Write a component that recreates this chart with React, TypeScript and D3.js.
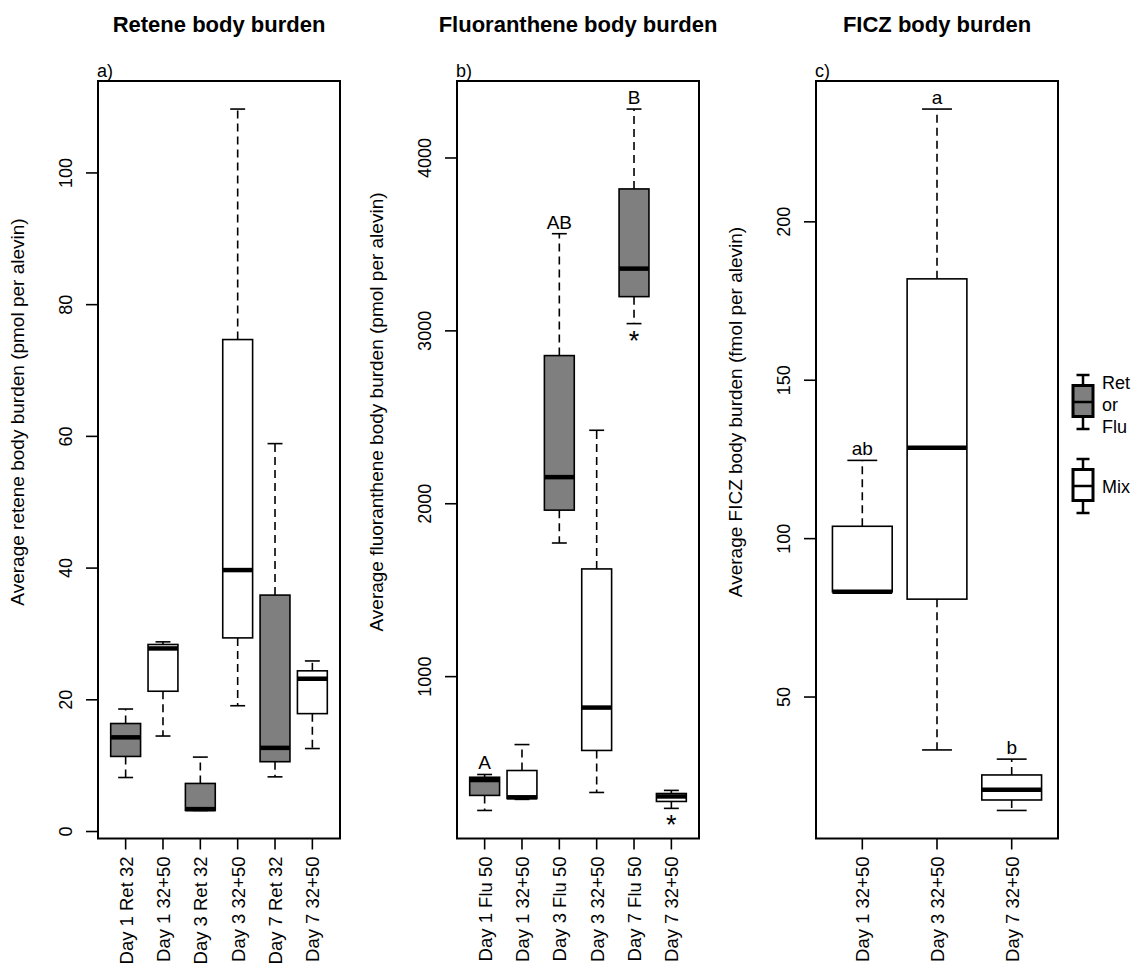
import React, { useEffect } from 'react';
import * as d3 from 'd3';

// five-number summaries: [min, q1, median, q3, max]
const retCategories = ['Day 1 Ret 32', 'Day 1 32+50', 'Day 3 Ret 32', 'Day 3 32+50', 'Day 7 Ret 32', 'Day 7 32+50'];
const retStats = [
  [8.2, 11.4, 14.3, 16.4, 18.6],
  [14.5, 21.3, 27.8, 28.4, 28.8],
  [3.2, 3.2, 3.4, 7.3, 11.3],
  [19.1, 29.4, 39.7, 74.7, 109.7],
  [8.3, 10.6, 12.7, 35.9, 58.9],
  [12.6, 17.9, 23.2, 24.4, 25.9],
];
const retGroups = ['single', 'mix', 'single', 'mix', 'single', 'mix'];
const retTicks = [0, 20, 40, 60, 80, 100];

const fluCategories = ['Day 1 Flu 50', 'Day 1 32+50', 'Day 3 Flu 50', 'Day 3 32+50', 'Day 7 Flu 50', 'Day 7 32+50'];
const fluStats = [
  [226, 313, 402, 418, 434],
  [290, 295, 302, 457, 607],
  [1773, 1963, 2154, 2857, 3562],
  [330, 573, 821, 1623, 2425],
  [3042, 3198, 3360, 3821, 4283],
  [238, 278, 307, 324, 342],
];
const fluGroups = ['single', 'mix', 'single', 'mix', 'single', 'mix'];
const fluLetters = ['A', '', 'AB', '', 'B', ''];
const fluStars = [false, false, false, false, true, true];
const fluTicks = [1000, 2000, 3000, 4000];

const ficzCategories = ['Day 1 32+50', 'Day 3 32+50', 'Day 7 32+50'];
const ficzStats = [
  [83.2, 83.2, 83.2, 103.9, 124.7],
  [33.3, 80.9, 128.7, 182, 235.6],
  [14.2, 17.5, 20.7, 25.4, 30.4],
];
const ficzGroups = ['mix', 'mix', 'mix'];
const ficzLetters = ['ab', 'a', 'b'];
const ficzTicks = [50, 100, 150, 200];

const legendLabels = [['Ret', 'or', 'Flu'], ['Mix']];
const legendGroups = ['single', 'mix'];

const FONT = "'Liberation Sans', Arial, Helvetica, sans-serif";
const fillFor = (g: string) => (g === 'single' ? '#7f7f7f' : '#ffffff');

const TOP = 81;
const BOTTOM = 838.5;
const PW = 242;

interface PanelProps {
  left: number;
  title: string;
  tag: string;
  yLabel: string;
  categories: string[];
  stats: number[][];
  groups: string[];
  ticks: number[];
  letters?: string[];
  stars?: boolean[];
}

const BoxPanel: React.FC<PanelProps> = ({ left, title, tag, yLabel, categories, stats, groups, ticks, letters, stars }) => {
  const n = categories.length;
  // R style: xlim 0.5..n+0.5, ylim from data, both padded by 4%
  const x = d3.scaleLinear().domain([0.5 - 0.04 * n, n + 0.5 + 0.04 * n]).range([left, left + PW]);
  const lo = d3.min(stats, s => s[0]) as number;
  const hi = d3.max(stats, s => s[4]) as number;
  const pad = (hi - lo) * 0.04;
  const y = d3.scaleLinear().domain([lo - pad, hi + pad]).range([BOTTOM, TOP]);
  const hw = (x(1.4) - x(1));
  const cx = left + PW / 2;

  return (
    <g>
      <text x={cx} y={32} textAnchor="middle" fontWeight="bold" fontSize={22} fontFamily={FONT}>{title}</text>
      <text x={left - 1} y={77} fontSize={18} fontFamily={FONT}>{tag}</text>
      <text transform={`translate(${left - 74.5},412) rotate(-90)`} textAnchor="middle" fontSize={19} fontFamily={FONT}>{yLabel}</text>

      {ticks.map(t => (
        <g key={t}>
          <line x1={left - 12} x2={left} y1={y(t)} y2={y(t)} stroke="#000" strokeWidth={1.6} />
          <text transform={`translate(${left - 26},${y(t)}) rotate(-90)`} textAnchor="middle" fontSize={18} fontFamily={FONT}>{t}</text>
        </g>
      ))}

      {categories.map((c, i) => (
        <g key={c + i}>
          <line x1={x(i + 1)} x2={x(i + 1)} y1={BOTTOM} y2={BOTTOM + 11} stroke="#000" strokeWidth={1.6} />
          <text transform={`translate(${x(i + 1) + 7},${BOTTOM + 18}) rotate(-90)`} textAnchor="end" fontSize={18.5} fontFamily={FONT}>{c}</text>
        </g>
      ))}

      {stats.map((s, i) => {
        const px = x(i + 1);
        const [mn, q1, md, q3, mx] = s;
        return (
          <g key={i}>
            <line x1={px} x2={px} y1={y(q3)} y2={y(mx)} stroke="#000" strokeWidth={1.6} strokeDasharray="8,5" />
            <line x1={px} x2={px} y1={y(q1)} y2={y(mn)} stroke="#000" strokeWidth={1.6} strokeDasharray="8,5" />
            <line x1={px - hw / 2} x2={px + hw / 2} y1={y(mx)} y2={y(mx)} stroke="#000" strokeWidth={1.6} />
            <line x1={px - hw / 2} x2={px + hw / 2} y1={y(mn)} y2={y(mn)} stroke="#000" strokeWidth={1.6} />
            <rect x={px - hw} y={y(q3)} width={2 * hw} height={Math.max(0.5, y(q1) - y(q3))} fill={fillFor(groups[i])} stroke="#000" strokeWidth={1.6} />
            <line x1={px - hw} x2={px + hw} y1={y(md)} y2={y(md)} stroke="#000" strokeWidth={4.5} />
            {letters && letters[i] ? (
              <text x={px} y={y(mx) - 5} textAnchor="middle" fontSize={19} fontFamily={FONT}>{letters[i]}</text>
            ) : null}
            {stars && stars[i] ? (
              <text x={px} y={y(mn) + 26} textAnchor="middle" fontSize={27} fontFamily={FONT}>*</text>
            ) : null}
          </g>
        );
      })}

      <rect x={left} y={TOP} width={PW} height={BOTTOM - TOP} fill="none" stroke="#000" strokeWidth={2} />
    </g>
  );
};

const Legend: React.FC = () => {
  const bx = 1083;
  const starts = [375, 459];
  return (
    <g>
      {legendGroups.map((g, k) => {
        const y0 = starts[k];
        return (
          <g key={g}>
            <line x1={bx} x2={bx} y1={y0} y2={y0 + 54} stroke="#000" strokeWidth={2.5} />
            <line x1={bx - 6.5} x2={bx + 6.5} y1={y0} y2={y0} stroke="#000" strokeWidth={2.5} />
            <line x1={bx - 6.5} x2={bx + 6.5} y1={y0 + 54} y2={y0 + 54} stroke="#000" strokeWidth={2.5} />
            <rect x={bx - 10} y={y0 + 10.5} width={20} height={31} fill={fillFor(g)} stroke="#000" strokeWidth={3} />
            <line x1={bx - 10} x2={bx + 10} y1={y0 + 27} y2={y0 + 27} stroke="#000" strokeWidth={2.5} />
            {legendLabels[k].map((t, j) => (
              <text key={t} x={bx + 19} y={legendLabels[k].length === 1 ? y0 + 34 : y0 + 14 + j * 22} fontSize={18} fontFamily={FONT}>{t}</text>
            ))}
          </g>
        );
      })}
    </g>
  );
};

export default function App() {
  useEffect(() => {
    document.body.style.margin = '0';
  }, []);
  return (
    <div style={{ position: 'absolute', left: 0, top: 0, background: '#fff' }}>
      <svg width={1133} height={963} style={{ display: 'block' }}>
        <rect width={1133} height={963} fill="#fff" />
        <BoxPanel left={98} title="Retene body burden" tag="a)" yLabel="Average retene body burden (pmol per alevin)"
          categories={retCategories} stats={retStats} groups={retGroups} ticks={retTicks} />
        <BoxPanel left={457} title="Fluoranthene body burden" tag="b)" yLabel="Average fluoranthene body burden (pmol per alevin)"
          categories={fluCategories} stats={fluStats} groups={fluGroups} ticks={fluTicks} letters={fluLetters} stars={fluStars} />
        <BoxPanel left={816} title="FICZ body burden" tag="c)" yLabel="Average FICZ body burden (fmol per alevin)"
          categories={ficzCategories} stats={ficzStats} groups={ficzGroups} ticks={ficzTicks} letters={ficzLetters} />
        <Legend />
      </svg>
    </div>
  );
}
